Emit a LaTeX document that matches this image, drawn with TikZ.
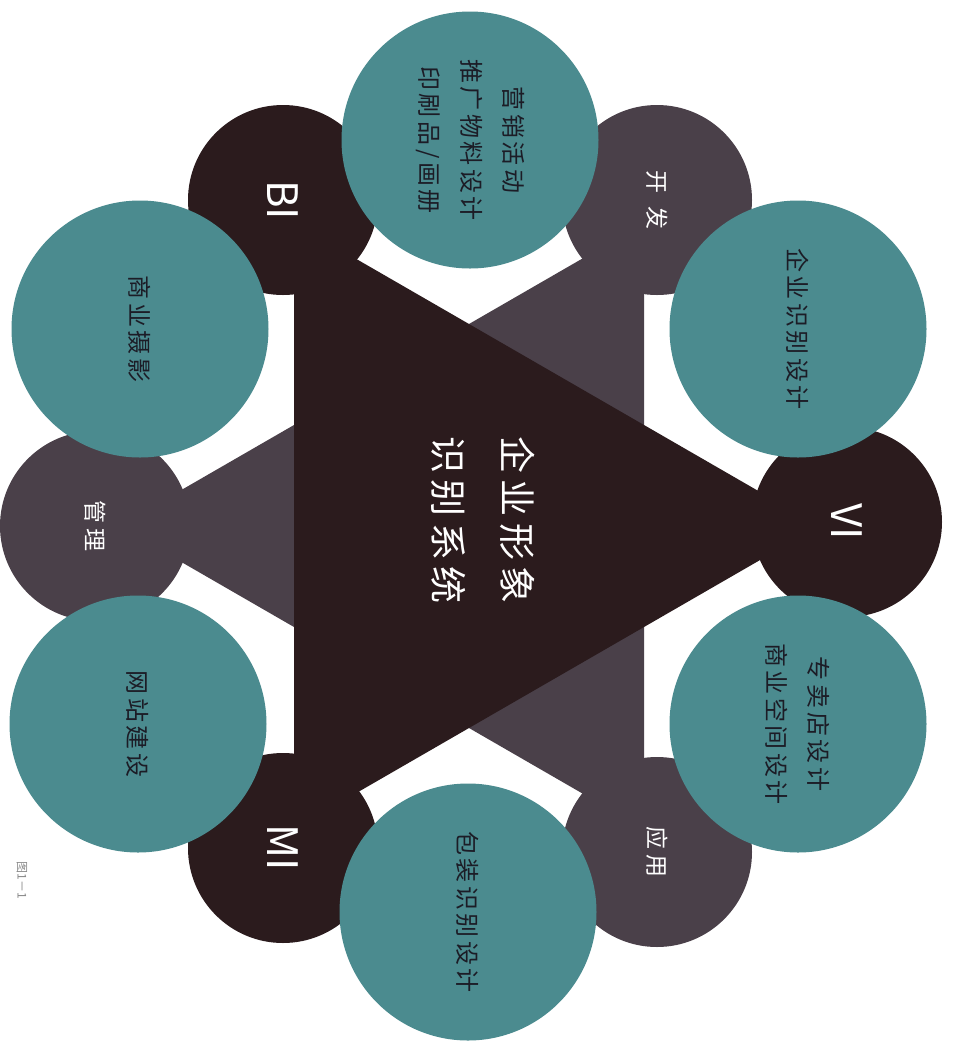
\documentclass[tikz,border=0pt]{standalone}
\usepackage{fontspec}
\setmainfont{Noto Sans CJK SC}
\newfontfamily\cjkA[LetterSpace=15]{Noto Sans CJK SC}
\newfontfamily\cjkB[LetterSpace=17]{Noto Sans CJK SC}
\definecolor{darkc}{HTML}{2B1B1D}
\definecolor{lightc}{HTML}{4A4049}
\definecolor{tealc}{HTML}{4B8B8F}
\definecolor{inkc}{HTML}{1C1C26}
\definecolor{capc}{HTML}{8A8A8A}
\begin{document}
\begin{tikzpicture}[x=1pt,y=-1pt,
  vcirc/.style={circle, minimum size=190pt, inner sep=0pt, draw=none, text=white, rotate=-90},
  tcirc/.style={circle, minimum size=257pt, inner sep=0pt, draw=none, fill=tealc, text=inkc, align=center, rotate=-90,
     font=\cjkA\fontsize{24}{42}\selectfont},
  latin/.style={font=\fontsize{42}{42}\selectfont},
  small/.style={font=\fontsize{23}{23}\selectfont}
]
\useasboundingbox (0,0) rectangle (954,1045);
\fill[white] (0,0) rectangle (954,1045);
% light triangle (pointing left)
\coordinate (L1) at (119,526);
\coordinate (L2) at (644,223);
\coordinate (L3) at (644,829);
\fill[lightc] (L1) -- (L2) -- (L3) -- cycle;
\node[vcirc, fill=lightc, small] (kaifa) at (657,200) {开\kern14pt 发};
\node[vcirc, fill=lightc, small] (guanli) at (95,526) {管\kern6pt 理};
\node[vcirc, fill=lightc, small] (yingyong) at (657,852) {应\kern5pt 用};
% dark triangle (pointing right)
\coordinate (D1) at (819,526);
\coordinate (D2) at (294,223);
\coordinate (D3) at (294,829);
\fill[darkc] (D1) -- (D2) -- (D3) -- cycle;
\node[vcirc, fill=darkc, latin] (bi) at (283,200) {BI};
\node[vcirc, fill=darkc, latin] (vi) at (847,522) {VI};
\node[vcirc, fill=darkc, latin] (mi) at (283,848) {MI};
% teal circles
\node[tcirc] (t1) at (470,140) {营销活动\\推广物料设计\\印刷品/画册};
\node[tcirc] (t2) at (798,329) {企业识别设计};
\node[tcirc] (t3) at (798,724) {专卖店设计\\商业空间设计};
\node[tcirc] (t4) at (468,912) {包装识别设计};
\node[tcirc] (t5) at (138,724) {网站建设};
\node[tcirc] (t6) at (140,329) {商业摄影};
% center title
\node[rotate=-90, align=center, text=white, font=\cjkB\fontsize{37}{69}\selectfont] (title) at (483,520) {企业形象\\识别系统};
% caption
\node[rotate=-90, text=capc, font=\fontsize{12}{12}\selectfont] (cap) at (22,880) {图1－1};
\end{tikzpicture}
\end{document}
